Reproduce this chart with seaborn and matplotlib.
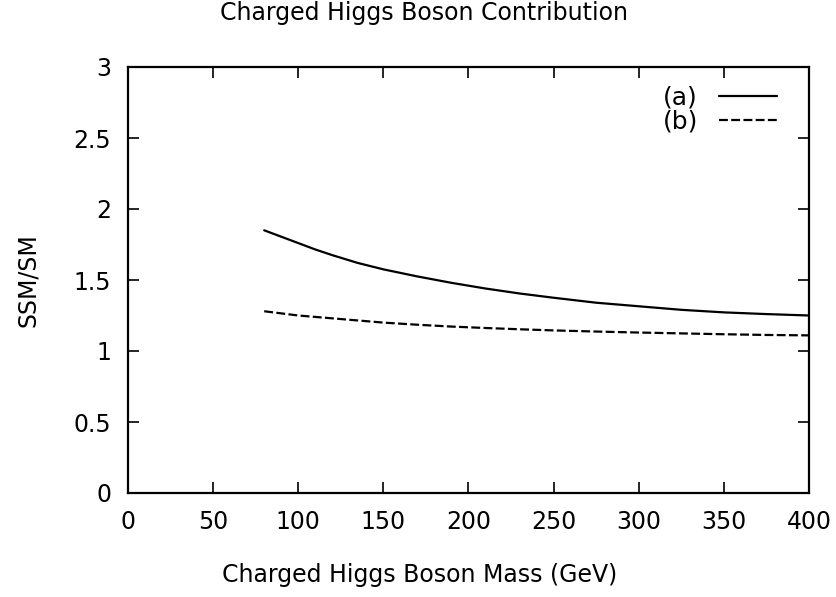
import matplotlib
matplotlib.use("Agg")
import matplotlib.pyplot as plt
import seaborn as sns
import pandas as pd

# values
mass = [80, 90, 100, 110, 120, 135, 150, 170, 190, 210, 230, 250, 275, 300, 325, 350, 375, 400]
ratio_a = [1.85, 1.805, 1.76, 1.715, 1.675, 1.62, 1.575, 1.525, 1.48, 1.44, 1.405, 1.375,
           1.34, 1.315, 1.29, 1.272, 1.26, 1.25]
ratio_b = [1.28, 1.265, 1.25, 1.24, 1.23, 1.215, 1.20, 1.185, 1.172, 1.162, 1.153, 1.145,
           1.137, 1.13, 1.124, 1.118, 1.113, 1.11]
labels = ["(a)", "(b)"]
xticks = [0, 50, 100, 150, 200, 250, 300, 350, 400]
yticks = [0, 0.5, 1, 1.5, 2, 2.5, 3]
ytick_labels = ["0", "0.5", "1", "1.5", "2", "2.5", "3"]

df = pd.DataFrame({"mass": mass * 2,
                   "ratio": ratio_a + ratio_b,
                   "curve": [labels[0]] * len(mass) + [labels[1]] * len(mass)})

sns.set_style("ticks")
plt.rcParams["font.family"] = ["DejaVu Sans"]
plt.rcParams["text.color"] = "black"
plt.rcParams["axes.labelcolor"] = "black"

fig = plt.figure(figsize=(8.37, 5.97), dpi=100)
ax = fig.add_axes([128 / 837, 1 - 493 / 597, 681 / 837, 426 / 597])

sns.lineplot(data=df, x="mass", y="ratio", style="curve", color="black",
             dashes={"(a)": "", "(b)": (4, 1.5)}, linewidth=1.6, ax=ax)

ax.set_xlim(0, 400)
ax.set_ylim(0, 3)
ax.set_xticks(xticks)
ax.set_yticks(yticks)
ax.set_yticklabels(ytick_labels)
ax.tick_params(direction="in", length=8, width=1.2, labelsize=17, pad=12,
               top=True, right=True, colors="black", labelcolor="black")
for s in ax.spines.values():
    s.set_linewidth(1.6)
    s.set_color("black")
ax.set_xlabel("")
ax.set_ylabel("")

leg = ax.legend(loc="upper right", bbox_to_anchor=(0.967, 0.98), frameon=False,
                markerfirst=False, fontsize=18, handlelength=2.3,
                handletextpad=0.85, labelspacing=0.0, borderaxespad=0)
for t in leg.get_texts():
    t.set_color("black")

fig.text(424 / 837, 1 - 13 / 597, "Charged Higgs Boson Contribution",
         ha="center", va="center", fontsize=17)
fig.text(420 / 837, 1 - 575 / 597, "Charged Higgs Boson Mass (GeV)",
         ha="center", va="center", fontsize=17)
fig.text(28 / 837, 1 - 280 / 597, "SSM/SM", rotation=90,
         ha="center", va="center", fontsize=17)

fig.savefig("out.png", dpi=100)
